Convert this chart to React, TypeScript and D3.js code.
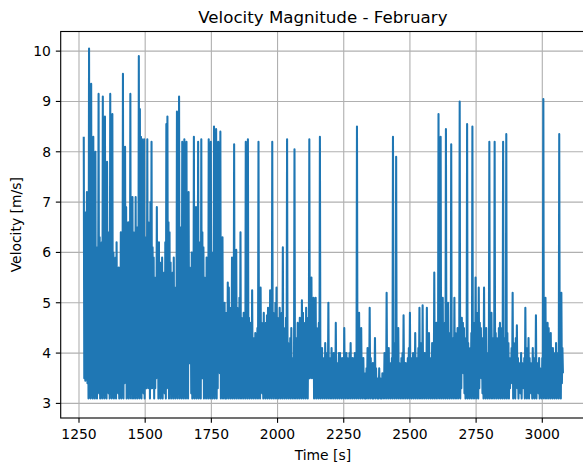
import React from 'react';
import * as d3 from 'd3';

const chartTitle = 'Velocity Magnitude - February';
const xLabel = 'Time [s]';
const yLabel = 'Velocity [m/s]';
const xTicks = [1250, 1500, 1750, 2000, 2250, 2500, 2750, 3000];
const yTicks = [3, 4, 5, 6, 7, 8, 9, 10];

// The signal oscillates every couple of seconds: local maxima are read every 4 s
// starting at t = 1268 s, and the local minimum between two maxima 2 s later.
const startTime = 1268;
const peakSpacing = 4;

const peaksEarly = [
  8.3, 6.6, 6.8, 7.2, 5.9, 10.05, 7.4, 9.35, 6.9, 8.3,
  7.6, 8.0, 6.0, 6.1, 9.15, 6.3, 5.6, 6.2, 9.1, 7.0,
  8.7, 6.5, 7.8, 6.4, 5.8, 9.15, 6.7, 8.75, 6.0, 5.5,
  5.9, 6.2, 5.2, 5.7, 5.5, 6.4, 6.0, 9.55, 7.0, 8.1,
  6.9, 5.9, 6.6, 6.0, 9.15, 6.8, 7.1, 6.4, 5.5, 7.1,
  6.5, 5.8, 9.9, 8.85, 8.3, 8.25, 7.0, 8.25, 6.3, 5.4,
  8.25, 6.6, 6.0, 7.0, 8.2, 6.1, 5.9, 5.5, 5.4, 6.9,
  5.6, 6.2, 5.8, 5.3, 5.9, 4.9, 5.6, 6.2, 8.55, 8.7,
  6.6, 6.4, 5.8, 5.2, 5.6, 5.9, 5.3, 5.0, 8.8, 6.3,
  9.1, 6.5, 5.6, 8.2, 6.9, 8.25, 6.4, 8.2, 6.0, 7.2,
  5.7, 5.4, 6.0, 5.9, 8.3, 6.6, 6.9, 5.8, 8.2, 6.2,
  5.6, 8.25, 6.4, 6.1, 5.5, 5.2, 5.9, 5.8, 8.25, 6.3,
  8.2, 6.0, 5.6, 8.5, 6.1, 8.45, 5.8, 8.2, 5.5, 8.4,
  5.3, 6.3, 4.9, 5.0,
];
const troughsEarly = [
  3.5, 3.45, 3.5, 3.4, 3.1, 3.2, 3.1, 3.3, 3.1, 3.2,
  3.1, 3.3, 3.1, 4.0, 3.2, 3.1, 3.4, 3.1, 3.2, 3.1,
  3.3, 3.1, 3.8, 3.2, 3.1, 3.3, 3.1, 3.2, 3.1, 3.4,
  3.1, 3.8, 3.2, 3.1, 3.3, 3.1, 3.2, 3.1, 3.4, 3.9,
  3.1, 3.2, 3.1, 3.3, 3.1, 3.2, 3.1, 3.4, 3.1, 3.2,
  3.1, 3.3, 3.1, 3.2, 3.1, 4.5, 3.2, 3.1, 3.3, 3.3,
  3.4, 3.3, 3.1, 3.3, 3.3, 3.4, 3.1, 3.3, 3.5, 3.6,
  3.1, 3.3, 3.1, 3.2, 3.1, 3.3, 3.2, 3.1, 3.3, 3.6,
  3.1, 3.2, 3.1, 3.4, 3.1, 3.2, 3.1, 3.3, 3.1, 3.2,
  3.1, 3.4, 3.1, 3.2, 3.1, 3.3, 3.1, 3.2, 3.1, 3.8,
  3.8, 3.2, 3.1, 3.3, 3.1, 3.2, 3.1, 3.4, 3.1, 3.2,
  3.1, 3.5, 3.5, 3.1, 3.3, 3.1, 3.2, 3.1, 3.3, 3.1,
  3.2, 3.1, 3.4, 3.1, 3.2, 3.1, 3.3, 3.7, 3.6, 3.1,
  3.2, 3.1, 3.3, 3.1,
];

const peaksMid = [
  4.8, 4.6, 5.4, 5.3, 4.9, 4.4, 5.9, 5.0, 8.15, 4.7,
  6.05, 4.9, 4.8, 5.1, 6.4, 4.7, 4.5, 4.8, 4.6, 8.2,
  4.9, 8.25, 4.7, 4.6, 4.4, 5.25, 4.2, 4.3, 4.4, 4.1,
  4.5, 8.2, 4.3, 5.3, 4.6, 4.4, 4.8, 4.1, 4.6, 4.75,
  4.9, 4.7, 5.25, 4.6, 8.2, 4.8, 4.5, 5.0, 5.3, 4.7,
  4.6, 4.9, 4.7, 4.8, 6.1, 4.5, 4.4, 4.7, 8.25, 4.2,
  4.0, 4.3, 4.5, 3.9, 3.9, 8.05, 4.1, 4.3, 4.6, 4.4,
  4.7, 4.5, 5.05, 4.8, 4.4, 4.6, 4.9, 4.5, 4.7, 8.25,
  4.8, 5.5, 4.6, 5.1, 4.9, 5.1, 4.5, 4.2, 4.6, 8.3,
  3.9, 4.1, 3.9, 3.8, 4.2, 4.0, 3.9, 5.0, 3.8, 3.9,
  4.1, 3.7, 4.0, 3.9, 4.6, 3.8, 3.8, 4.0, 4.0, 3.7,
  3.9, 3.7, 4.5, 3.8, 4.0, 3.9, 3.8, 4.0, 4.2, 3.7,
  3.9, 3.8, 4.0, 3.9, 8.5,
];
const troughsMid = [
  3.1, 3.3, 3.1, 3.2, 3.1, 3.6, 3.1, 3.2, 3.1, 3.3,
  3.1, 3.2, 3.1, 3.4, 3.1, 3.2, 3.1, 3.3, 3.1, 3.2,
  3.1, 3.3, 3.1, 3.2, 3.1, 3.4, 3.1, 3.2, 3.1, 3.3,
  3.1, 3.2, 3.1, 3.5, 3.2, 3.1, 3.3, 3.1, 3.2, 3.1,
  3.3, 3.1, 3.2, 3.1, 3.4, 3.1, 3.2, 3.1, 3.3, 3.1,
  3.2, 3.1, 3.3, 3.1, 3.2, 3.1, 3.4, 3.1, 3.2, 3.1,
  3.3, 3.1, 3.2, 3.1, 3.3, 3.1, 3.2, 3.1, 3.4, 3.1,
  3.2, 3.1, 3.3, 3.1, 3.2, 3.1, 3.3, 3.1, 3.5, 3.5,
  3.6, 3.5, 3.6, 3.1, 3.2, 3.1, 3.3, 3.1, 3.2, 3.1,
  3.3, 3.1, 3.2, 3.1, 3.3, 3.1, 3.2, 3.1, 3.3, 3.1,
  3.2, 3.1, 3.3, 3.1, 3.2, 3.1, 3.3, 3.1, 3.2, 3.1,
  3.3, 3.1, 3.2, 3.1, 3.3, 3.1, 3.2, 3.1, 3.3, 3.1,
  3.2, 3.1, 3.3, 3.1, 3.2,
];

const peaksLow = [
  3.9, 4.8, 4.1, 4.5, 3.8, 3.9, 3.6, 3.6, 3.7, 4.1,
  3.8, 4.9, 3.9, 3.5, 3.8, 3.6, 4.3, 3.7, 3.5, 3.4,
  3.7, 3.5, 3.4, 3.6, 3.6, 4.0, 3.7, 5.2, 3.9, 4.1,
  3.6, 3.8, 3.9, 8.3, 4.2, 4.2, 7.9, 3.9, 4.5, 3.8,
  3.7, 3.9, 4.0, 4.75, 3.8, 3.8, 3.6, 3.9, 4.1, 4.8,
  3.9, 3.9, 4.0, 3.6, 4.4, 3.8, 3.9, 4.1, 4.9, 3.9,
  4.2, 4.95, 4.0, 4.0, 3.8, 4.9, 4.1, 4.4, 3.9, 3.8,
  4.2, 3.9, 5.6, 4.0, 4.6,
];
const troughsLow = [
  3.1, 3.2, 3.1, 3.3, 3.1, 3.2, 3.1, 3.1, 3.2, 3.1,
  3.3, 3.1, 3.2, 3.1, 3.1, 3.2, 3.1, 3.2, 3.1, 3.1,
  3.2, 3.1, 3.1, 3.2, 3.1, 3.3, 3.1, 3.2, 3.1, 3.2,
  3.1, 3.2, 3.1, 3.3, 3.1, 3.2, 3.1, 3.2, 3.1, 3.3,
  3.1, 3.2, 3.1, 3.2, 3.1, 3.3, 3.1, 3.2, 3.1, 3.2,
  3.1, 3.3, 3.1, 3.2, 3.1, 3.2, 3.1, 3.3, 3.1, 3.2,
  3.1, 3.2, 3.1, 3.3, 3.1, 3.2, 3.1, 3.2, 3.1, 3.3,
  3.1, 3.2, 3.1, 3.2, 3.1,
];

const peaksLate = [
  4.3, 8.75, 4.5, 8.3, 4.4, 5.1, 4.2, 4.6, 8.45, 4.3,
  5.0, 4.1, 4.4, 8.15, 4.3, 4.0, 5.1, 4.4, 4.2, 4.5,
  3.9, 9.0, 4.2, 4.7, 4.6, 4.5, 4.0, 4.3, 8.55, 4.2,
  3.8, 4.1, 4.4, 8.5, 4.3, 4.6, 5.5, 4.4, 4.8, 5.3,
  4.6, 4.5, 4.3, 4.2, 5.3, 4.4, 4.5, 4.0, 3.9, 8.2,
  4.2, 4.8, 4.3, 4.0, 8.2, 4.4, 4.3, 4.1, 4.5, 4.6,
  4.5, 4.2, 8.2, 4.3, 4.1, 8.35, 4.4, 4.2, 3.9, 3.8,
  4.1, 5.2, 4.2, 4.0, 4.3, 4.55, 3.9, 3.7, 3.8, 4.0,
  3.8, 3.6, 3.9, 4.9, 4.0, 4.1, 4.3, 3.9, 3.8, 3.7,
  4.1, 3.9, 3.9, 4.75, 3.8, 3.8, 3.9, 3.7, 3.6, 3.9,
  9.05, 4.3, 5.1, 4.2, 4.6, 4.5, 4.0, 4.4, 4.1, 4.1,
  3.9, 4.0, 4.2, 4.0, 3.9, 8.35, 4.4, 5.2, 4.1,
];
const troughsLate = [
  3.2, 3.1, 3.3, 3.1, 3.2, 3.1, 3.4, 3.1, 3.2, 3.1,
  3.3, 3.1, 3.2, 3.1, 3.4, 3.1, 3.2, 3.1, 3.3, 3.1,
  3.2, 3.1, 3.3, 3.7, 3.6, 3.2, 3.1, 3.3, 3.1, 3.2,
  3.1, 3.4, 3.1, 3.2, 3.1, 3.3, 3.1, 3.2, 3.1, 3.3,
  3.6, 3.5, 3.2, 3.1, 3.3, 3.1, 3.2, 3.1, 3.4, 3.1,
  3.2, 3.1, 3.3, 3.1, 3.2, 3.1, 3.3, 3.1, 3.2, 3.1,
  3.4, 3.1, 3.2, 3.1, 3.3, 3.1, 3.2, 3.1, 3.3, 3.5,
  3.4, 3.1, 3.3, 3.1, 3.5, 3.3, 3.1, 3.4, 3.2, 3.1,
  3.5, 3.3, 3.1, 3.4, 3.1, 3.3, 3.1, 3.5, 3.2, 3.1,
  3.4, 3.1, 3.3, 3.1, 3.5, 3.2, 3.1, 3.4, 3.1, 3.3,
  3.1, 3.2, 3.1, 3.4, 3.1, 3.3, 3.1, 3.2, 3.1, 3.4,
  3.1, 3.3, 3.1, 3.2, 3.1, 3.3, 3.1, 3.4, 3.6,
];

const W = 583;
const H = 466;
const FONT = 'DejaVu Sans, sans-serif';
// matplotlib widths in points at 100 dpi
const PT = 100 / 72;

export default function App() {
  const left = 60.7;
  const right = 585.1;
  const top = 31.5;
  const bottom = 418;

  const x = d3.scaleLinear().domain([1180.9, 3161.7]).range([left, right]);
  const y = d3.scaleLinear().domain([2.71, 10.39]).range([bottom, top]);

  const peaks = [...peaksEarly, ...peaksMid, ...peaksLow, ...peaksLate];
  const troughs = [...troughsEarly, ...troughsMid, ...troughsLow, ...troughsLate];
  const points: [number, number][] = [];
  peaks.forEach((p, k) => {
    const t = startTime + k * peakSpacing;
    points.push([t, p]);
    points.push([t + peakSpacing / 2, troughs[k]]);
  });

  const line = d3
    .line<[number, number]>()
    .x((d) => x(d[0]))
    .y((d) => y(d[1]));

  const tickLen = 3.5 * PT;
  const thin = 0.8 * PT;

  return (
    <svg
      width={W}
      height={H}
      style={{ position: 'absolute', left: 0, top: 0, background: '#fff' }}
      fontFamily={FONT}
    >
      <rect x={0} y={0} width={W} height={H} fill="#fff" />
      <defs>
        <clipPath id="plot">
          <rect x={left} y={top} width={right - left} height={bottom - top} />
        </clipPath>
      </defs>
      {xTicks.map((t) => (
        <line key={'gx' + t} x1={x(t)} x2={x(t)} y1={top} y2={bottom} stroke="#b0b0b0" strokeWidth={thin} />
      ))}
      {yTicks.map((t) => (
        <line key={'gy' + t} x1={left} x2={right} y1={y(t)} y2={y(t)} stroke="#b0b0b0" strokeWidth={thin} />
      ))}
      <path
        d={line(points) || ''}
        fill="none"
        stroke="#1f77b4"
        strokeWidth={1.5 * PT}
        strokeLinejoin="round"
        clipPath="url(#plot)"
      />
      <rect x={left} y={top} width={right - left} height={bottom - top} fill="none" stroke="#000" strokeWidth={thin} />
      {xTicks.map((t) => (
        <g key={'tx' + t}>
          <line x1={x(t)} x2={x(t)} y1={bottom} y2={bottom + tickLen} stroke="#000" strokeWidth={thin} />
          <text x={x(t)} y={438.5} textAnchor="middle" fontSize={13.9} fill="#000">
            {t}
          </text>
        </g>
      ))}
      {yTicks.map((t) => (
        <g key={'ty' + t}>
          <line x1={left - tickLen} x2={left} y1={y(t)} y2={y(t)} stroke="#000" strokeWidth={thin} />
          <text x={left - tickLen - 3.5 * PT} y={y(t)} dy="0.35em" textAnchor="end" fontSize={13.9} fill="#000">
            {t}
          </text>
        </g>
      ))}
      <text x={(left + right) / 2} y={23.2} textAnchor="middle" fontSize={16.67} fill="#000">
        {chartTitle}
      </text>
      <text x={(left + right) / 2} y={459.5} textAnchor="middle" fontSize={13.9} fill="#000">
        {xLabel}
      </text>
      <text
        transform={`translate(20.5, ${(top + bottom) / 2}) rotate(-90)`}
        textAnchor="middle"
        fontSize={13.9}
        fill="#000"
      >
        {yLabel}
      </text>
    </svg>
  );
}
